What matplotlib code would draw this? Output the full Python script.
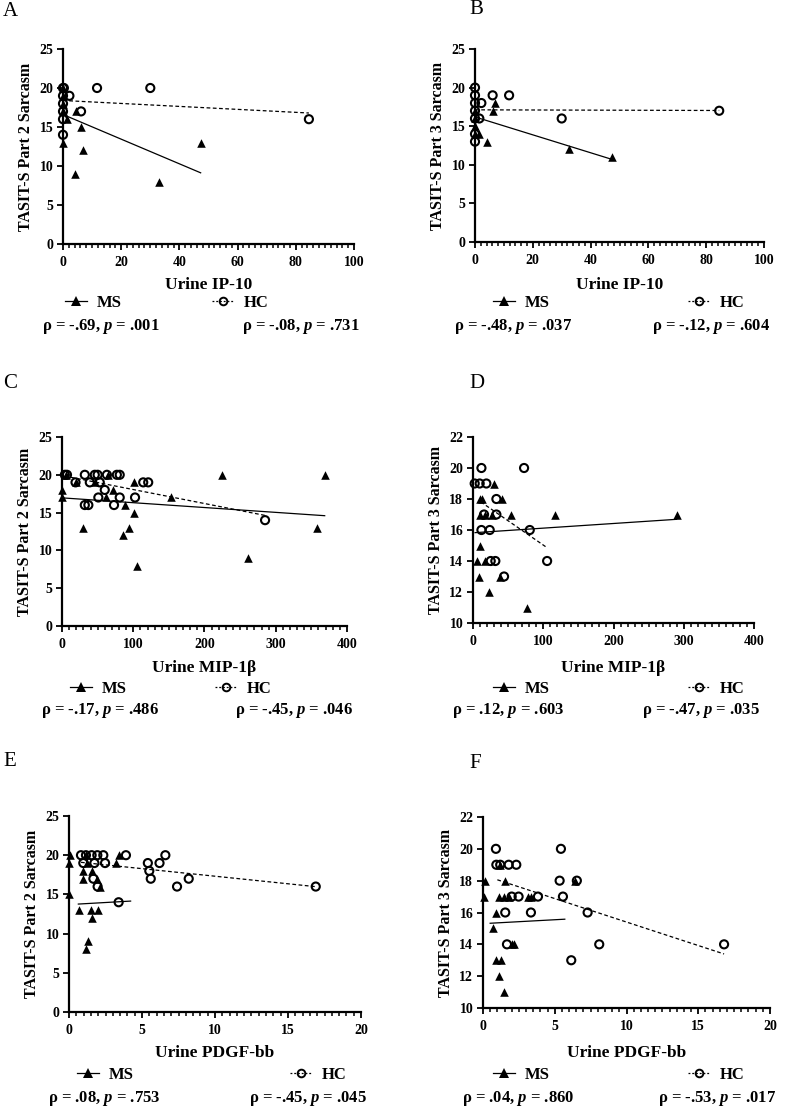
import matplotlib
matplotlib.use("Agg")
import matplotlib.pyplot as plt
from matplotlib.lines import Line2D
from matplotlib.ticker import MultipleLocator
import numpy as np

# ---------------- data ----------------
# Panel A: Part 2 Sarcasm vs Urine IP-10
a_ms_x = [0, 0, 0, 0, 0, 1.5, 4.2, 4.5, 6.2, 7.0, 33.0, 47.3]
a_ms_y = [13, 20, 19, 18, 17, 16, 9, 17, 15, 12, 8, 13]
a_hc_x = [0, 0, 0, 0, 0, 0, 0.3, 2.2, 6.2, 11.7, 30.0, 84.5]
a_hc_y = [20, 19, 18, 17, 16, 14, 20, 19, 17, 20, 20, 16]
a_ms_fit = [16.6, -0.158, 0.0, 47.3]     # intercept, slope, x from, x to
a_hc_fit = [18.4, -0.019, 0.0, 84.5]

# Panel B: Part 3 Sarcasm vs Urine IP-10
b_ms_x = [0, 0, 0, 0, 1.5, 4.3, 6.1, 6.9, 32.6, 47.3]
b_ms_y = [17, 16, 15, 14, 14, 13, 17, 18, 12, 11]
b_hc_x = [0, 0, 0, 0, 0, 0, 0, 2.2, 1.5, 6.1, 11.8, 30.0, 84.5]
b_hc_y = [20, 19, 18, 17, 16, 14, 13, 18, 16, 19, 19, 16, 17]
b_ms_fit = [16.2, -0.116, 0.0, 47.3]
b_hc_fit = [17.12, -0.001, 0.0, 84.5]

# Panel C: Part 2 Sarcasm vs Urine MIP-1beta
c_ms_x = [0, 0, 6, 20, 29, 46, 62, 65, 72, 88, 85.6, 94, 101.5, 101.5, 105, 153, 224.6, 261, 358, 368.7]
c_ms_y = [18, 17, 20, 19, 13, 19, 17, 20, 18, 16, 12, 13, 19, 15, 8, 17, 20, 9, 13, 20]
c_hc_x = [4, 7, 19, 32, 32, 37, 39, 46, 50, 53, 51, 60, 63, 73, 77, 81, 81, 102.5, 114, 121, 285]
c_hc_y = [20, 20, 19, 20, 16, 16, 19, 20, 20, 19, 17, 18, 20, 16, 20, 20, 17, 17, 19, 19, 14]
c_ms_fit = [16.95, -0.0064, 0.0, 368.7]
c_hc_fit = [19.9, -0.0185, 4.0, 285.0]

# Panel D: Part 3 Sarcasm vs Urine MIP-1beta
d_ms_x = [29.9, 9.5, 12.8, 41.3, 9.5, 16.6, 27, 53.7, 117.3, 289.8, 10.5, 5.7, 16.6, 8.1, 38, 22.3, 77.4]
d_ms_y = [19, 18, 18, 18, 17, 17, 17, 17, 17, 17, 15, 14, 14, 13, 13, 12, 11]
d_hc_x = [12, 72.7, 2.4, 9.5, 19, 33.3, 15.7, 33.3, 12, 23.8, 80.8, 25.2, 31.8, 105.5, 44.2]
d_hc_y = [20, 20, 19, 19, 19, 18, 17, 17, 16, 16, 16, 14, 14, 14, 13]
d_ms_fit = [15.82, 0.0030, 3.0, 289.8]
d_hc_fit = [18.16, -0.0313, 11.0, 105.5]

# Panel E: Part 2 Sarcasm vs Urine PDGF-bb
e_ms_x = [0.07, 0, 0, 1.16, 3.4, 1.26, 3.2, 0.98, 1.55, 0.94, 1.9, 2.1, 0.7, 1.48, 2.0, 1.55, 1.32, 1.16]
e_ms_y = [20, 19, 15, 20, 20, 19, 19, 18, 18, 17, 17, 16, 13, 13, 13, 12, 9, 8]
e_hc_x = [0.82, 1.16, 1.55, 1.94, 2.35, 3.9, 6.6, 0.98, 1.74, 2.47, 5.4, 6.2, 5.5, 1.67, 5.6, 8.2, 1.96, 7.4, 16.9, 3.4]
e_hc_y = [20, 20, 20, 20, 20, 20, 20, 19, 19, 19, 19, 19, 18, 17, 17, 17, 16, 16, 16, 14]
e_ms_fit = [13.70, 0.106, 0.64, 4.22]
e_hc_fit = [19.25, -0.193, 0.82, 16.9]

# Panel F: Part 3 Sarcasm vs Urine PDGF-bb
f_ms_x = [0.12, 0.05, 1.55, 1.09, 1.44, 1.79, 3.13, 3.34, 6.43, 0.93, 0.7, 2.0, 2.13, 0.93, 1.28, 1.14, 1.48, 1.2]
f_ms_y = [18, 17, 18, 17, 17, 17, 17, 17, 18, 16, 15, 14, 14, 13, 13, 12, 11, 19]
f_hc_x = [0.9, 5.43, 0.93, 1.2, 1.79, 2.32, 5.34, 6.54, 2.0, 2.48, 3.83, 5.57, 1.55, 3.34, 7.29, 1.67, 8.1, 16.8, 6.15]
f_hc_y = [20, 20, 19, 19, 19, 19, 18, 18, 17, 17, 17, 17, 16, 16, 16, 14, 14, 14, 13]
f_ms_fit = [15.30, 0.049, 0.5, 5.7]
f_hc_fit = [18.35, -0.295, 1.0, 16.8]

panel_letters = ["A", "B", "C", "D", "E", "F"]
x_labels = ["Urine IP-10", "Urine IP-10", "Urine MIP-1β", "Urine MIP-1β", "Urine PDGF-bb", "Urine PDGF-bb"]
y_labels = ["TASIT-S Part 2 Sarcasm", "TASIT-S Part 3 Sarcasm"] * 3
x_limits = [(0, 100), (0, 100), (0, 400), (0, 400), (0, 20), (0, 20)]
x_major = [20, 20, 100, 100, 5, 5]
x_minor = [2, 2, 10, 10, 0.5, 0.5]
y_limits = [(0, 25), (0, 25), (0, 25), (10, 22), (0, 25), (10, 22)]
y_major = [5, 5, 5, 2, 5, 2]
ms_rho = ["-.69", "-.48", "-.17", ".12", ".08", ".04"]
ms_p = [".001", ".037", ".486", ".603", ".753", ".860"]
hc_rho = ["-.08", "-.12", "-.45", "-.47", "-.45", "-.53"]
hc_p = [".731", ".604", ".046", ".035", ".045", ".017"]

ms_xs = [a_ms_x, b_ms_x, c_ms_x, d_ms_x, e_ms_x, f_ms_x]
ms_ys = [a_ms_y, b_ms_y, c_ms_y, d_ms_y, e_ms_y, f_ms_y]
hc_xs = [a_hc_x, b_hc_x, c_hc_x, d_hc_x, e_hc_x, f_hc_x]
hc_ys = [a_hc_y, b_hc_y, c_hc_y, d_hc_y, e_hc_y, f_hc_y]
ms_fits = [a_ms_fit, b_ms_fit, c_ms_fit, d_ms_fit, e_ms_fit, f_ms_fit]
hc_fits = [a_hc_fit, b_hc_fit, c_hc_fit, d_hc_fit, e_hc_fit, f_hc_fit]

# ---------------- layout (pixels) ----------------
W, H = 789, 1110
boxes = [(63, 354, 49, 244), (475, 764, 49, 242),
         (62, 347, 437, 626), (473, 754, 437, 623),
         (69, 361, 816, 1012), (483, 770, 817, 1008)]
row_text_y = [(285, 303, 327), (668, 689, 710), (1053, 1075, 1099)]
legend_x = [(65, 212), (493, 688), (70, 215), (493, 688), (77, 290), (493, 688)]
letter_pos = [(3, 11), (469, 10), (3, 383), (469, 383), (3, 762), (469, 763)]

plt.rcParams['font.family'] = ['Liberation Serif', 'DejaVu Serif']
plt.rcParams['font.weight'] = 'bold'
plt.rcParams['axes.labelweight'] = 'bold'
plt.rcParams['mathtext.fontset'] = 'custom'
plt.rcParams['mathtext.rm'] = 'Liberation Serif:bold'
plt.rcParams['mathtext.it'] = 'Liberation Serif:italic:bold'
plt.rcParams['mathtext.bf'] = 'Liberation Serif:bold'

fig = plt.figure(figsize=(W / 100, H / 100), dpi=100)
fig.patch.set_facecolor('white')

hc_dash = (0, (3, 2))

for i in range(6):
    l, r, t, b = boxes[i]
    ax = fig.add_axes([l / W, 1 - b / H, (r - l) / W, (b - t) / H])
    pw, ph = r - l, b - t

    def ax_x(px):
        return (px - l) / pw

    def ax_y(py):
        return (b - py) / ph

    ax.scatter(ms_xs[i], ms_ys[i], marker='^', s=38, color='black',
               linewidths=0, clip_on=False, zorder=4)
    ax.scatter(hc_xs[i], hc_ys[i], marker='o', s=34, facecolors='none',
               edgecolors='black', linewidths=1.5, clip_on=False, zorder=5)

    b0, b1, x0, x1 = ms_fits[i]
    xs = np.array([x0, x1])
    ax.plot(xs, b0 + b1 * xs, color='black', lw=0.9, zorder=3, clip_on=False)
    b0, b1, x0, x1 = hc_fits[i]
    xs = np.array([x0, x1])
    ax.plot(xs, b0 + b1 * xs, color='black', lw=0.9, ls=hc_dash, zorder=3, clip_on=False)

    ax.set_xlim(*x_limits[i])
    ax.set_ylim(*y_limits[i])
    ax.xaxis.set_major_locator(MultipleLocator(x_major[i]))
    ax.xaxis.set_minor_locator(MultipleLocator(x_minor[i]))
    ax.yaxis.set_major_locator(MultipleLocator(y_major[i]))
    for s in ['top', 'right']:
        ax.spines[s].set_visible(False)
    for s in ['left', 'bottom']:
        ax.spines[s].set_linewidth(1.6)
    ax.tick_params(axis='both', which='major', length=4.5, width=1.3,
                   direction='out', labelsize=10, pad=2.5)
    ax.tick_params(axis='x', which='minor', length=3, width=1.1, direction='out')
    ax.tick_params(axis='x', which='major', pad=4)
    for lab in ax.get_xticklabels() + ax.get_yticklabels():
        lab.set_fontweight('bold')

    ax.set_xlabel(x_labels[i], fontsize=12.5, fontweight='bold')
    ax.xaxis.label.set_va('center')
    ax.xaxis.set_label_coords(0.5, ax_y(row_text_y[i // 2][0]))
    ax.set_ylabel(y_labels[i], fontsize=11.5, fontweight='bold')
    ax.yaxis.label.set_va('center')
    ax.yaxis.set_label_coords(ax_x(l - 37), 0.5)

    ly = ax_y(row_text_y[i // 2][1])
    ms_h = Line2D([], [], color='black', lw=0.9, marker='^', markersize=6.5, markeredgewidth=0)
    hc_h = Line2D([], [], color='black', lw=0.9, ls=(0, (1.5, 1.5)), marker='o',
                  markersize=5.5, markerfacecolor='none', markeredgewidth=1.4)
    mx, hx = legend_x[i]
    leg1 = ax.legend([ms_h], ['MS'], loc='center left', bbox_to_anchor=(ax_x(mx), ly),
                     frameon=False, fontsize=12, handlelength=1.3, handletextpad=0.6,
                     borderpad=0, borderaxespad=0)
    ax.add_artist(leg1)
    ax.legend([hc_h], ['HC'], loc='center left', bbox_to_anchor=(ax_x(hx), ly),
              frameon=False, fontsize=12, handlelength=1.3, handletextpad=0.6,
              borderpad=0, borderaxespad=0)

    ry = ax_y(row_text_y[i // 2][2])
    ax.text(ax_x(l - 21), ry, "ρ = %s, $\\mathit{p}$ = %s" % (ms_rho[i], ms_p[i]),
            transform=ax.transAxes, ha='left', va='center', fontsize=12)
    ax.text(ax_x(r + 6), ry, "ρ = %s, $\\mathit{p}$ = %s" % (hc_rho[i], hc_p[i]),
            transform=ax.transAxes, ha='right', va='center', fontsize=12)

    lx, lyy = letter_pos[i]
    fig.text(lx / W, 1 - lyy / H, panel_letters[i], fontsize=15, fontweight='normal',
             ha='left', va='center')

fig.savefig("out.png", dpi=100, facecolor='white')
